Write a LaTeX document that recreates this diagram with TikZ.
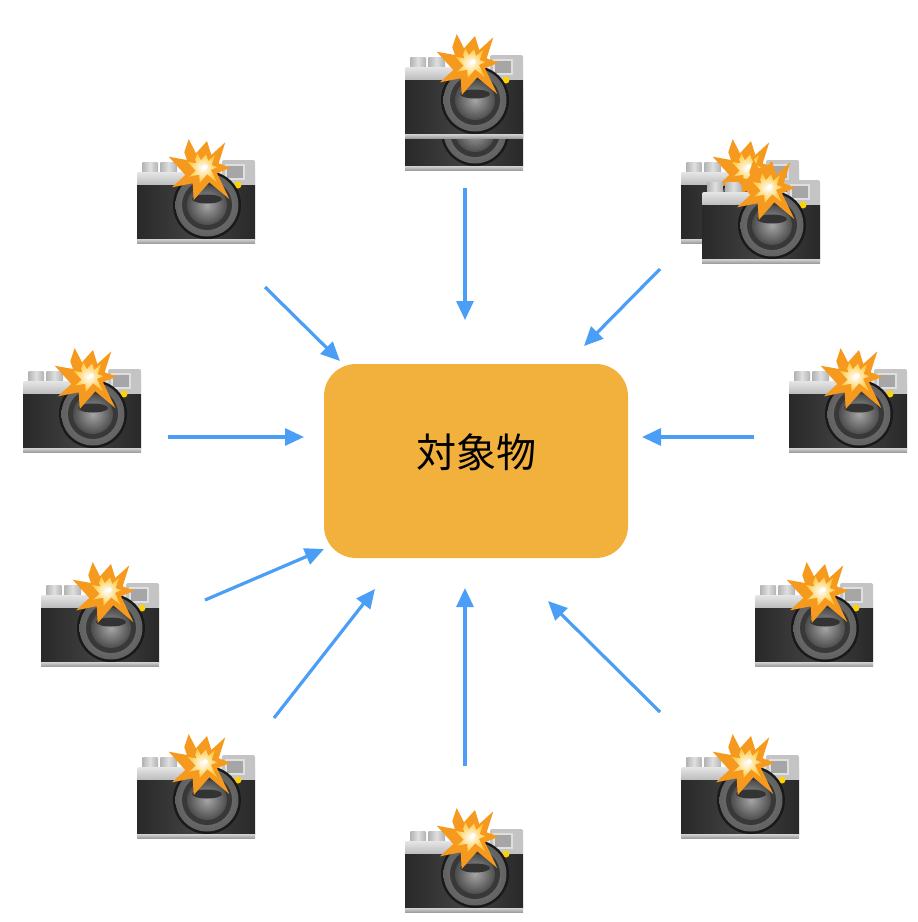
\documentclass[tikz,border=0pt]{standalone}
\usepackage{fontspec}
\newfontfamily\cjk{Noto Sans CJK JP}
\usetikzlibrary{arrows.meta}
\definecolor{objfill}{HTML}{F2B03C}
\definecolor{arrowblue}{HTML}{4A9EF5}
\definecolor{flashorange}{HTML}{F59A1E}
\definecolor{flashyellow}{HTML}{FFC83A}
\definecolor{platesilver}{HTML}{C4C4C4}
\newcommand{\flashpath}{(-16.6,-27.7) -- (-9.3,-13.4) -- (1.7,-25.7) -- (6,-11.7) -- (20,-24.4) -- (13.4,-3.4) -- (25,1) -- (11.7,6.6) -- (24,32.3) -- (4,15.6) -- (-11.6,33.3) -- (-12.6,16.6) -- (-33.3,20.6) -- (-20,8.3) -- (-36.6,-10) -- (-18.3,-6.7) -- (-21,-14.4) -- cycle}
\tikzset{
  shot/.style={-{Triangle[length=19pt,width=17pt]}, draw=arrowblue, line width=3.2pt},
  camera/.pic={
    % knobs
    \shade[left color=gray!60, right color=gray!60, middle color=gray!25, rounded corners=1pt] (5,2) rectangle (21,14);
    \shade[left color=gray!60, right color=gray!60, middle color=gray!25, rounded corners=1pt] (23,2) rectangle (40,14);
    % top plate
    \shade[top color=gray!20, bottom color=gray!55, rounded corners=2pt] (0,12) rectangle (118,26);
    \fill[platesilver, rounded corners=2pt] (85,0) rectangle (118,25);
    % body
    \shade[left color=black!84, right color=black!84, middle color=black!74] (0,25) rectangle (118,79);
    \shade[top color=gray!35, bottom color=gray!75] (0,79) rectangle (118,83);
    % viewfinder and dot
    \fill[gray!25] (88,4) rectangle (108,20);
    \fill[gray!70] (90,6) rectangle (106,18);
    \fill[yellow!70!orange] (101,25) circle (3.5);
    % lens
    \fill[black!90] (70,45) circle (34);
    \shade[inner color=black!50, outer color=black!62] (70,45) circle (31.5);
    \fill[black!78] (70,45) circle (25);
    \shade[inner color=gray!70, outer color=black!70] (70,45) circle (20);
    \fill[black!80] (70,39) ellipse (15 and 4.5);
    % flash
    \begin{scope}[shift={(68.3,6.7)}]
      \fill[flashorange] \flashpath;
      \begin{scope}[scale=.48]
        \shade[inner color=white, outer color=flashyellow] \flashpath;
      \end{scope}
      \fill[white] (0,0) circle (2.5);
    \end{scope}
  }
}
\begin{document}
\begin{tikzpicture}[x=1pt,y=-1pt]
\useasboundingbox (0,0) rectangle (918,922);

% stacked ones first
\pic (camtoplow) at (405,87) {camera};
\pic (camtop) at (405,55) {camera};
\pic (camneback) at (681,160) {camera};
\pic (camnefront) at (702,180) {camera};

\pic (camnw) at (137,160) {camera};
\pic (camw) at (23,369) {camera};
\pic (camwsw) at (41,583) {camera};
\pic (camsw) at (137,755) {camera};
\pic (cams) at (405,829) {camera};
\pic (camse) at (681,755) {camera};
\pic (camese) at (755,583) {camera};
\pic (came) at (789,369) {camera};

\node[fill=objfill, rounded corners=32pt, minimum width=304pt, minimum height=194pt, inner sep=0pt] (obj) at (476,461) {};
\node[font=\cjk\fontsize{40}{44}\selectfont, inner sep=0pt] (objlabel) at (476,452.5) {対象物};

% arrow ends
\coordinate (n1) at (465,188);   \coordinate (n2) at (465,320);
\coordinate (ne1) at (660,269);  \coordinate (ne2) at (584,346);
\coordinate (e1) at (754,437);   \coordinate (e2) at (642,437);
\coordinate (se1) at (660,712);  \coordinate (se2) at (548,601);
\coordinate (s1) at (465,766);   \coordinate (s2) at (465,588);
\coordinate (sw1) at (274,718);  \coordinate (sw2) at (375,589);
\coordinate (wsw1) at (205,600); \coordinate (wsw2) at (324,549);
\coordinate (w1) at (168,437);   \coordinate (w2) at (304,437);
\coordinate (nw1) at (265,287);  \coordinate (nw2) at (340,361);

\foreach \from/\to in {n1/n2, ne1/ne2, e1/e2, se1/se2, s1/s2, sw1/sw2, wsw1/wsw2, w1/w2, nw1/nw2}
  \draw[shot] (\from) -- (\to);
\end{tikzpicture}
\end{document}
